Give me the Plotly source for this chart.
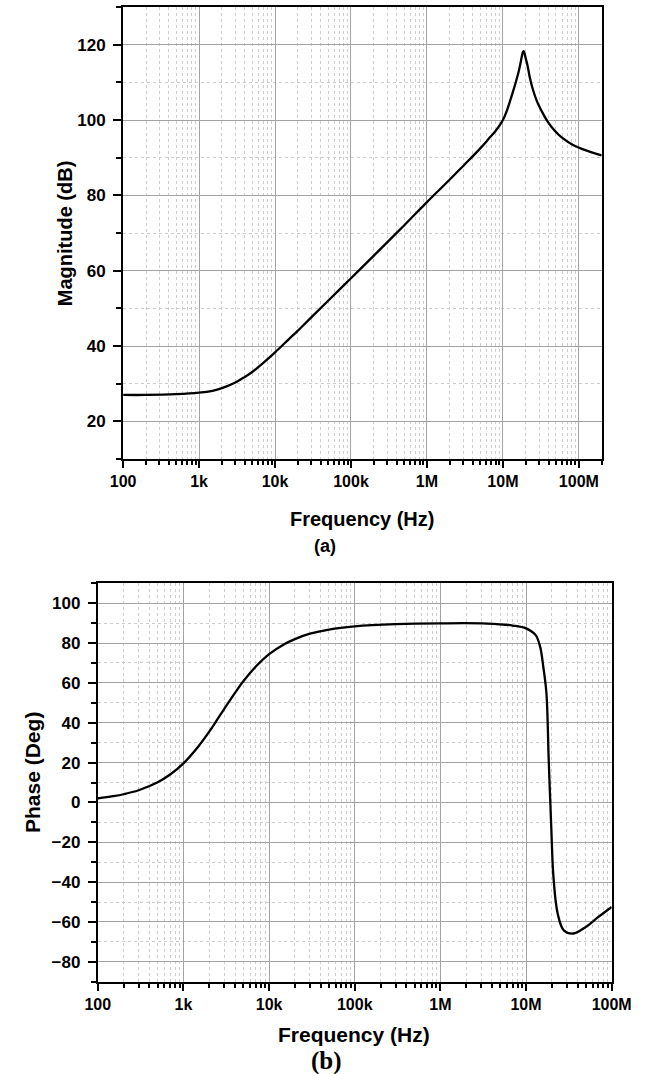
import math
import plotly.graph_objects as go

# ---------------- data ----------------
freq_mag = [100, 200, 500, 1e3, 1.5e3, 2e3, 3e3, 4e3, 5e3, 7e3, 1e4, 1.5e4, 2e4, 3e4, 5e4,
            1e5, 2e5, 5e5, 1e6, 2e6, 3e6, 5e6, 6.5e6, 8e6, 9e6, 1e7, 1.12e7, 1.24e7, 1.38e7,
            1.51e7, 1.62e7, 1.7e7, 1.78e7, 1.83e7, 1.87e7, 1.92e7, 2.0e7, 2.11e7, 2.25e7,
            2.45e7, 2.8e7, 3.25e7, 3.9e7, 4.75e7, 6e7, 8.5e7, 1.3e8, 2e8]
mag_db = [27.0, 27.0, 27.2, 27.6, 28.1, 28.8, 30.3, 31.8, 33.1, 35.5, 38.3, 41.7, 44.1, 47.6, 52.0,
          58.0, 64.0, 72.0, 78.2, 84.2, 87.8, 92.4, 95.0, 97.1, 98.5, 100.0, 102.3, 105.0, 108.0,
          110.7, 113.0, 115.0, 117.0, 118.0, 118.3, 117.8, 116.3, 114.5, 111.5,
          108.5, 105.0, 102.3, 99.5, 97.3, 95.3, 93.3, 91.8, 90.6]

freq_phase = [100, 150, 200, 300, 500, 700, 1e3, 1.5e3, 2e3, 2.5e3, 3e3, 4e3, 5e3, 7e3, 1e4,
              1.5e4, 2e4, 3e4, 5e4, 1e5, 3e5, 1e6, 3.5e6, 7e6, 1e7, 1.29e7, 1.46e7, 1.59e7,
              1.73e7, 1.84e7, 1.97e7, 2.09e7, 2.34e7, 2.76e7, 3.56e7, 4.98e7, 7e7, 1e8]
phase_deg = [2.0, 3.1, 4.1, 6.1, 10.1, 14.0, 19.6, 28.2, 35.5, 41.8, 47.0, 55.0, 60.8, 68.2, 74.4,
             79.4, 82.0, 84.7, 86.8, 88.4, 89.5, 89.9, 89.8, 88.8, 87.4, 84.1, 78.2, 68.1,
             54.8, 21.3, -12.3, -37.4, -55.8, -64.2, -65.8, -62.5, -57.5, -52.5]

x_tick_vals = [1e2, 1e3, 1e4, 1e5, 1e6, 1e7, 1e8]
x_tick_text = ["100", "1k", "10k", "100k", "1M", "10M", "100M"]
mag_tick_vals = [20, 40, 60, 80, 100, 120]
phase_tick_vals = [-80, -60, -40, -20, 0, 20, 40, 60, 80, 100]

x_minor_vals = [m * 10 ** e for e in range(2, 9) for m in range(2, 10)]

# ---------------- layout helpers ----------------
W, H = 654, 1074
FONT = "Liberation Sans, Arial, sans-serif"


def px_x(a, b):
    return [a / W, b / W]


def px_y(top, bottom):
    return [1 - bottom / H, 1 - top / H]


major_grid = "#a3a3a3"
minor_grid = "#cdcdcd"


def xaxis_cfg(domain, anchor, rng, size):
    return dict(
        type="log", domain=domain, anchor=anchor, range=rng,
        tickmode="array", tickvals=x_tick_vals, ticktext=x_tick_text,
        ticks="outside", ticklen=7, tickwidth=1.5, tickcolor="black",
        ticklabelstandoff=0,
        showline=True, linewidth=2, linecolor="black", mirror=True,
        showgrid=True, gridcolor=major_grid, gridwidth=1,
        zeroline=False,
        tickfont=dict(family=FONT, size=size, color="black", weight="bold"),
        minor=dict(tickmode="array", tickvals=x_minor_vals, ticks="outside",
                   ticklen=4, tickwidth=1.5, tickcolor="black",
                   showgrid=True, gridcolor=minor_grid, griddash="dot", gridwidth=1),
    )


def yaxis_cfg(domain, anchor, rng, vals, size):
    return dict(
        domain=domain, anchor=anchor, range=rng,
        tickmode="array", tickvals=vals,
        ticks="outside", ticklen=8, tickwidth=1.5, tickcolor="black",
        ticklabelstandoff=4,
        showline=True, linewidth=2, linecolor="black", mirror=True,
        showgrid=True, gridcolor=major_grid, gridwidth=1,
        zeroline=False,
        tickfont=dict(family=FONT, size=size, color="black", weight="bold"),
        minor=dict(dtick=10, tick0=0, ticks="outside", ticklen=5, tickwidth=1.5,
                   tickcolor="black", showgrid=True, gridcolor=minor_grid,
                   griddash="dot", gridwidth=1),
    )


fig = go.Figure()
fig.add_trace(go.Scatter(
    x=freq_mag, y=mag_db, mode="lines", xaxis="x", yaxis="y",
    line=dict(color="black", width=2.3, shape="spline", smoothing=1.0),
    showlegend=False, hoverinfo="skip"))
fig.add_trace(go.Scatter(
    x=freq_phase, y=phase_deg, mode="lines", xaxis="x2", yaxis="y2",
    line=dict(color="black", width=2.3, shape="spline", smoothing=1.0),
    showlegend=False, hoverinfo="skip"))

fig.update_layout(
    width=W, height=H, autosize=False,
    margin=dict(l=0, r=0, t=0, b=0, pad=0),
    paper_bgcolor="white", plot_bgcolor="white",
    xaxis=xaxis_cfg(px_x(116, 620), "y", [2, math.log10(2e8)], 16),
    yaxis=yaxis_cfg(px_y(7, 459), "x", [10, 130], mag_tick_vals, 17),
    xaxis2=xaxis_cfg(px_x(89.3, 630.5), "y2", [2, 8], 16),
    yaxis2=yaxis_cfg(px_y(583.3, 981.7), "x2", [-90, 110], phase_tick_vals, 17),
)


def label(text, x, y, size, angle=0, family=FONT, weight="bold"):
    fig.add_annotation(
        text=text, x=x / W, y=1 - y / H, xref="paper", yref="paper",
        showarrow=False, textangle=angle, xanchor="center", yanchor="middle",
        font=dict(family=family, size=size, color="black", weight=weight))


label("Magnitude (dB)", 55, 233, 20, angle=-90)
label("Frequency (Hz)", 368, 519, 20)
label("(a)", 329, 546, 18)
label("Phase (Deg)", 20, 772, 21, angle=-90)
label("Frequency (Hz)", 359, 1034, 21)
label("(b)", 330, 1061, 25, family="Liberation Serif, Times New Roman, serif")

fig.write_html("out.html")
